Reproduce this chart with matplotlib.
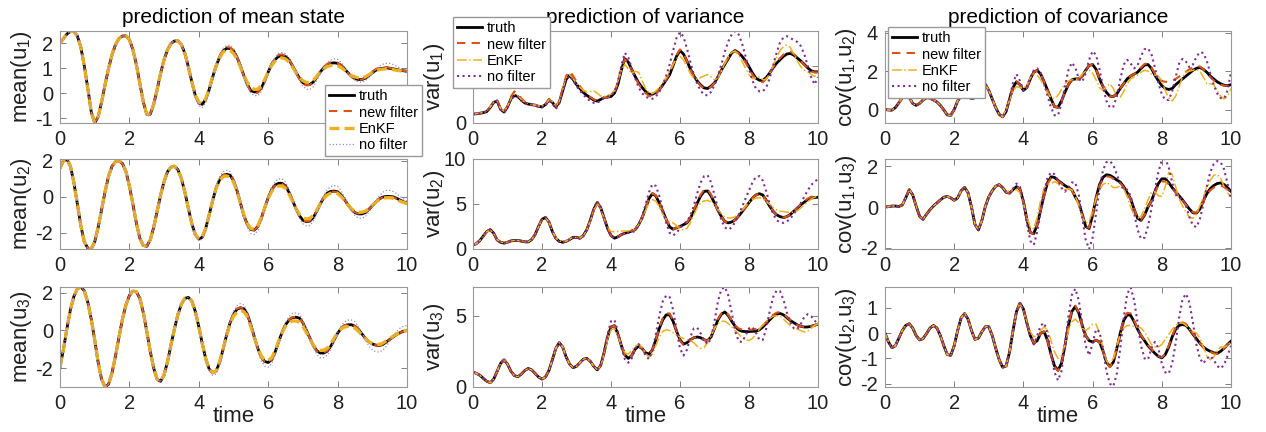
import matplotlib
matplotlib.use("Agg")
import matplotlib.pyplot as plt
import numpy as np

plt.rcParams['font.family'] = ['Liberation Sans', 'DejaVu Sans']
plt.rcParams['mathtext.default'] = 'regular'
plt.rcParams['axes.unicode_minus'] = False

# sampling times (step 0.1)
time = np.linspace(0, 10, 101)

########## mean state ##########
mean_u1_truth = [2.0, 2.2, 2.38, 2.48, 2.48, 2.3, 1.85, 1.1, 0.2, -0.75,
                 -1.2, -0.95, -0.35, 0.35, 1.0, 1.55, 1.95, 2.2, 2.3, 2.3,
                 2.15, 1.75, 1.15, 0.4, -0.35, -0.85, -0.85, -0.45, 0.15, 0.8,
                 1.35, 1.75, 2.0, 2.1, 2.1, 1.95, 1.6, 1.05, 0.45, -0.1,
                 -0.4, -0.45, -0.25, 0.15, 0.65, 1.1, 1.45, 1.7, 1.8, 1.8,
                 1.7, 1.45, 1.1, 0.7, 0.35, 0.1, 0.05, 0.05, 0.2, 0.5,
                 0.85, 1.15, 1.35, 1.48, 1.5, 1.47, 1.35, 1.1, 0.85, 0.6,
                 0.42, 0.35, 0.35, 0.45, 0.65, 0.85, 1.02, 1.13, 1.2, 1.22,
                 1.2, 1.12, 0.98, 0.82, 0.68, 0.58, 0.55, 0.55, 0.6, 0.7,
                 0.82, 0.92, 0.98, 1.0, 1.02, 1.0, 0.98, 0.95, 0.92, 0.9,
                 0.88]
mean_u1_newfilter = mean_u1_truth[:44] + [
    0.68, 1.13, 1.5, 1.75, 1.85, 1.84, 1.72, 1.45, 1.08, 0.68,
    0.32, 0.06, 0.0, 0.02, 0.2, 0.52, 0.88, 1.2, 1.42, 1.54,
    1.56, 1.5, 1.36, 1.1, 0.82, 0.56, 0.38, 0.31, 0.33, 0.45,
    0.66, 0.88, 1.06, 1.18, 1.24, 1.25, 1.22, 1.12, 0.97, 0.8,
    0.66, 0.57, 0.54, 0.55, 0.62, 0.74, 0.87, 0.97, 1.03, 1.05,
    1.05, 1.02, 0.98, 0.95, 0.92, 0.9, 0.88]
mean_u1_enkf = mean_u1_truth[:40] + [
    -0.35, -0.42, -0.22, 0.17, 0.68, 1.1, 1.42, 1.65, 1.75, 1.72,
    1.6, 1.38, 1.05, 0.72, 0.42, 0.22, 0.15, 0.16, 0.3, 0.55,
    0.85, 1.12, 1.3, 1.4, 1.42, 1.38, 1.25, 1.05, 0.82, 0.63,
    0.5, 0.43, 0.43, 0.52, 0.68, 0.85, 0.98, 1.07, 1.11, 1.12,
    1.1, 1.03, 0.93, 0.81, 0.71, 0.65, 0.62, 0.62, 0.66, 0.74,
    0.83, 0.9, 0.95, 0.97, 0.98, 0.97, 0.95, 0.92, 0.9, 0.88, 0.86]
mean_u1_nofilter = mean_u1_truth[:25] + [
    -0.92, -0.9, -0.47, 0.15, 0.8, 1.35, 1.77, 2.03, 2.13, 2.12,
    1.96, 1.6, 1.03, 0.4, -0.18,
    -0.5, -0.58, -0.38, 0.08, 0.62, 1.12, 1.52, 1.8, 1.92, 1.92,
    1.8, 1.52, 1.12, 0.68, 0.28, 0.0, -0.1, -0.1, 0.06, 0.4,
    0.82, 1.2, 1.45, 1.6, 1.63, 1.58, 1.42, 1.15, 0.82, 0.5,
    0.28, 0.16, 0.15, 0.26, 0.5, 0.78, 1.04, 1.22, 1.33, 1.38,
    1.36, 1.25, 1.06, 0.84, 0.65, 0.52, 0.45, 0.44, 0.5, 0.63,
    0.8, 0.96, 1.08, 1.16, 1.2, 1.2, 1.15, 1.08, 1.0, 0.94, 0.9]

mean_u2_truth = [1.6, 2.0, 2.1, 1.7, 0.8, -0.4, -1.6, -2.5, -2.85, -2.9,
                 -2.5, -1.7, -0.7, 0.3, 1.15, 1.7, 1.95, 2.0, 1.85, 1.4,
                 0.6, -0.4, -1.45, -2.3, -2.7, -2.75, -2.4, -1.7, -0.8, 0.1,
                 0.85, 1.4, 1.65, 1.7, 1.5, 1.0, 0.25, -0.65, -1.5, -2.1,
                 -2.35, -2.25, -1.75, -1.0, -0.2, 0.5, 0.95, 1.2, 1.25, 1.2,
                 0.9, 0.35, -0.35, -1.05, -1.55, -1.82, -1.85, -1.65, -1.2, -0.6,
                 -0.05, 0.4, 0.65, 0.75, 0.75, 0.6, 0.25, -0.2, -0.65, -1.05,
                 -1.3, -1.38, -1.35, -1.15, -0.8, -0.4, -0.05, 0.2, 0.3, 0.32,
                 0.28, 0.1, -0.15, -0.45, -0.7, -0.88, -0.95, -0.95, -0.88, -0.7,
                 -0.5, -0.3, -0.12, -0.02, 0.02, 0.02, 0.0, -0.08, -0.18, -0.28,
                 -0.35]
mean_u2_newfilter = mean_u2_truth[:60] + [
    -0.05, 0.38, 0.62, 0.72, 0.72, 0.57, 0.22, -0.22, -0.66, -1.05,
    -1.3, -1.37, -1.33, -1.13, -0.78, -0.38, -0.04, 0.19, 0.28, 0.29,
    0.25, 0.08, -0.16, -0.45, -0.7, -0.87, -0.93, -0.93, -0.86, -0.69,
    -0.5, -0.3, -0.13, -0.04, 0.0, 0.0, -0.03, -0.1, -0.2, -0.29, -0.36]
mean_u2_enkf = mean_u2_truth[:46] + [
    0.9, 1.12, 1.16, 1.1, 0.82, 0.3, -0.35, -1.0, -1.5, -1.77,
    -1.8, -1.6, -1.18, -0.62, -0.1, 0.3, 0.52, 0.6, 0.6, 0.46,
    0.15, -0.25, -0.65, -0.98, -1.18, -1.23, -1.2, -1.03, -0.74, -0.4,
    -0.1, 0.1, 0.2, 0.22, 0.18, 0.02, -0.2, -0.46, -0.67, -0.8,
    -0.86, -0.86, -0.8, -0.65, -0.48, -0.3, -0.16, -0.08, -0.05, -0.05,
    -0.08, -0.15, -0.24, -0.32, -0.38]
mean_u2_nofilter = mean_u2_truth[:40] + [
    -2.45, -2.35, -1.85, -1.05, -0.2, 0.6, 1.1, 1.4, 1.47, 1.4,
    1.08, 0.5, -0.3, -1.1, -1.7, -2.05, -2.1, -1.88, -1.38, -0.72,
    -0.08, 0.5, 0.85, 1.0, 1.0, 0.82, 0.42, -0.12, -0.68, -1.18,
    -1.5, -1.62, -1.6, -1.35, -0.92, -0.4, 0.05, 0.4, 0.57, 0.62,
    0.58, 0.35, 0.0, -0.4, -0.78, -1.05, -1.18, -1.2, -1.1, -0.85,
    -0.55, -0.22, 0.05, 0.25, 0.35, 0.36, 0.3, 0.18, 0.02, -0.12, -0.22]

mean_u3_truth = [-1.95, -1.0, 0.1, 1.1, 1.8, 2.2, 2.3, 2.1, 1.5, 0.6,
                 -0.5, -1.7, -2.6, -3.0, -2.85, -2.25, -1.35, -0.35, 0.6, 1.35,
                 1.85, 2.08, 2.05, 1.7, 0.95, -0.05, -1.1, -2.0, -2.6, -2.7,
                 -2.35, -1.65, -0.75, 0.1, 0.85, 1.4, 1.7, 1.75, 1.55, 1.0,
                 0.2, -0.7, -1.5, -2.05, -2.25, -2.15, -1.7, -1.0, -0.25, 0.4,
                 0.85, 1.12, 1.2, 1.15, 0.85, 0.3, -0.35, -0.95, -1.4, -1.65,
                 -1.7, -1.55, -1.15, -0.6, -0.1, 0.3, 0.55, 0.68, 0.7, 0.65,
                 0.4, 0.0, -0.4, -0.8, -1.08, -1.2, -1.2, -1.1, -0.85, -0.5,
                 -0.15, 0.1, 0.25, 0.3, 0.3, 0.22, 0.05, -0.18, -0.42, -0.6,
                 -0.72, -0.78, -0.8, -0.75, -0.62, -0.48, -0.35, -0.22, -0.12, -0.05,
                 0.0]
mean_u3_newfilter = mean_u3_truth[:50] + [
    0.88, 1.15, 1.22, 1.16, 0.85, 0.28, -0.38, -0.98, -1.42, -1.66,
    -1.7, -1.54, -1.13, -0.58, -0.08, 0.32, 0.57, 0.7, 0.72, 0.66,
    0.4, 0.0, -0.42, -0.82, -1.1, -1.2, -1.18, -1.08, -0.83, -0.48,
    -0.13, 0.12, 0.27, 0.32, 0.32, 0.23, 0.06, -0.17, -0.41, -0.6,
    -0.72, -0.78, -0.8, -0.75, -0.62, -0.48, -0.35, -0.22, -0.12, -0.05, 0.0]
mean_u3_enkf = mean_u3_truth[:46] + [
    -1.65, -0.98, -0.27, 0.33, 0.75, 0.98, 1.05, 1.0, 0.72, 0.2,
    -0.4, -0.95, -1.35, -1.57, -1.6, -1.45, -1.07, -0.58, -0.12, 0.22,
    0.42, 0.5, 0.5, 0.44, 0.22, -0.12, -0.46, -0.78, -0.98, -1.06,
    -1.05, -0.95, -0.72, -0.42, -0.12, 0.08, 0.18, 0.21, 0.2, 0.12,
    -0.04, -0.24, -0.44, -0.6, -0.7, -0.74, -0.74, -0.68, -0.56, -0.43,
    -0.31, -0.2, -0.1, -0.04, 0.0]
mean_u3_nofilter = mean_u3_truth[:43] + [
    -2.15, -2.38, -2.3, -1.85, -1.1, -0.25, 0.5, 1.02, 1.32, 1.42,
    1.35, 1.0, 0.38, -0.38, -1.1, -1.6, -1.9, -1.95, -1.78, -1.32,
    -0.7, -0.08, 0.42, 0.74, 0.9, 0.92, 0.85, 0.56, 0.1, -0.4,
    -0.9, -1.28, -1.45, -1.45, -1.32, -1.02, -0.6, -0.12, 0.22, 0.45,
    0.55, 0.55, 0.45, 0.2, -0.12, -0.5, -0.82, -1.03, -1.13, -1.15,
    -1.05, -0.85, -0.58, -0.3, -0.05, 0.12, 0.22, 0.25]

########## variance ##########
var_u1_truth = [0.78, 0.8, 0.85, 0.9, 1.0, 1.35, 1.8, 1.9, 1.2, 0.95,
                1.4, 2.1, 2.4, 2.3, 2.0, 1.75, 1.65, 1.6, 1.55, 1.45,
                1.4, 1.6, 2.0, 1.8, 1.4, 1.8, 2.8, 3.8, 4.15, 3.8,
                3.35, 3.0, 2.65, 2.4, 2.2, 2.0, 1.9, 2.05, 2.2, 2.25,
                2.3, 2.6, 3.35, 4.6, 5.6, 5.3, 4.65, 4.05, 3.5, 3.1,
                2.75, 2.5, 2.5, 2.65, 2.9, 3.3, 3.75, 4.2, 5.0, 5.8,
                6.3, 6.0, 5.4, 4.7, 4.1, 3.65, 3.3, 3.05, 3.0, 3.2,
                3.5, 4.0, 4.6, 5.1, 5.6, 6.1, 6.3, 6.1, 5.8, 5.4,
                4.9, 4.35, 3.9, 3.72, 3.7, 3.95, 4.35, 4.8, 5.2, 5.5,
                5.8, 6.0, 6.05, 5.9, 5.65, 5.4, 5.1, 4.8, 4.55, 4.45,
                4.45]
var_u1_newfilter = [0.8, 0.82, 0.86, 0.92, 1.05, 1.4, 1.85, 1.95, 1.25, 1.0,
                    1.5, 2.3, 2.75, 2.55, 2.15, 1.85, 1.7, 1.62, 1.55, 1.45,
                    1.4, 1.6, 2.1, 1.9, 1.45, 1.9, 3.0, 4.1, 4.5, 4.1,
                    3.6, 3.2, 2.8, 2.5, 2.25, 2.05, 1.95, 2.05, 2.2, 2.25,
                    2.35, 2.7, 3.5, 4.7, 5.55, 5.25, 4.6, 4.0, 3.4, 2.95,
                    2.6, 2.35, 2.3, 2.5, 2.85, 3.3, 3.8, 4.3, 5.1, 5.9,
                    6.4, 6.05, 5.4, 4.65, 4.05, 3.6, 3.25, 3.0, 2.95, 3.15,
                    3.5, 4.0, 4.6, 5.15, 5.65, 6.1, 6.25, 6.05, 5.7, 5.25,
                    4.75, 4.2, 3.8, 3.6, 3.55, 3.85, 4.3, 4.85, 5.3, 5.65,
                    5.95, 6.15, 6.2, 6.0, 5.7, 5.4, 5.05, 4.75, 4.5, 4.4,
                    4.4]
var_u1_enkf = [0.8, 0.82, 0.86, 0.92, 1.05, 1.4, 1.82, 1.9, 1.25, 1.0,
               1.45, 2.1, 2.5, 2.35, 2.05, 1.8, 1.68, 1.6, 1.55, 1.48,
               1.45, 1.65, 2.0, 1.85, 1.5, 1.85, 2.9, 3.95, 4.2, 3.85,
               3.45, 3.1, 2.85, 2.7, 2.75, 2.8, 2.6, 2.35, 2.3, 2.4,
               2.5, 2.85, 3.6, 4.6, 5.1, 4.7, 4.3, 4.5, 4.4, 3.7,
               3.0, 2.6, 2.55, 2.75, 3.1, 3.5, 3.95, 4.5, 5.1, 5.6,
               5.8, 5.5, 4.9, 4.3, 3.9, 3.8, 3.95, 4.1, 4.2, 4.0,
               3.75, 3.9, 4.5, 5.2, 5.8, 6.15, 6.25, 5.9, 5.35, 4.75,
               4.2, 3.85, 3.95, 4.0, 3.75, 3.8, 4.3, 5.0, 5.7, 6.3,
               6.65, 6.8, 6.55, 6.0, 5.4, 4.9, 4.6, 4.45, 4.25, 4.05,
               4.3]
var_u1_nofilter = [0.78, 0.8, 0.84, 0.9, 1.0, 1.35, 1.82, 1.95, 1.15, 0.9,
                   1.35, 2.05, 2.35, 2.25, 1.95, 1.7, 1.6, 1.55, 1.5, 1.42,
                   1.35, 1.55, 1.95, 1.7, 1.2, 1.7, 2.8, 3.8, 4.1, 3.7,
                   3.2, 2.8, 2.45, 2.15, 1.9, 1.75, 1.75, 1.95, 2.2, 2.3,
                   2.4, 2.7, 3.6, 5.0, 6.1, 5.7, 4.8, 3.9, 3.1, 2.6,
                   2.3, 2.15, 2.1, 2.3, 2.7, 3.3, 4.1, 5.1, 6.3, 7.4,
                   7.9, 7.5, 6.5, 5.3, 4.2, 3.4, 2.8, 2.45, 2.4, 2.7,
                   3.3, 4.1, 5.1, 6.2, 7.1, 7.7, 8.0, 7.7, 6.9, 5.8,
                   4.7, 3.7, 3.0, 2.75, 2.75, 3.1, 3.9, 5.0, 6.1, 7.0,
                   7.45, 7.55, 7.4, 7.2, 7.05, 6.7, 6.0, 5.0, 4.0, 3.35,
                   4.0]

var_u2_truth = [0.45, 0.6, 0.95, 1.45, 1.95, 2.15, 1.75, 1.0, 0.75, 0.65,
                0.75, 0.9, 0.95, 0.95, 0.88, 0.8, 0.78, 1.05, 1.6, 2.5,
                3.3, 3.5, 3.0, 1.95, 1.2, 0.85, 0.75, 0.85, 1.05, 1.3,
                1.3, 1.2, 1.5, 2.15, 3.2, 4.4, 5.15, 4.6, 3.45, 2.3,
                1.5, 1.2, 1.35, 1.6, 1.75, 1.85, 2.0, 2.15, 2.7, 3.45,
                4.5, 5.6, 6.15, 5.9, 5.1, 4.2, 3.3, 2.45, 2.2, 2.35,
                2.5, 2.7, 2.9, 3.4, 4.2, 5.1, 5.9, 6.4, 6.45, 5.9,
                5.1, 4.3, 3.6, 3.05, 2.9, 3.0, 3.25, 3.65, 4.15, 4.65,
                5.15, 5.65, 6.0, 6.15, 6.0, 5.4, 4.75, 4.2, 3.8, 3.6,
                3.5, 3.6, 3.85, 4.2, 4.55, 4.9, 5.2, 5.5, 5.65, 5.72,
                5.75]
var_u2_newfilter = var_u2_truth[:48] + [
    2.7, 3.5, 4.55, 5.65, 6.2, 5.95, 5.15, 4.2, 3.3, 2.45,
    2.2, 2.35, 2.5, 2.72, 2.95, 3.5, 4.35, 5.25, 6.05, 6.6,
    6.65, 6.05, 5.2, 4.35, 3.6, 3.05, 2.9, 3.0, 3.25, 3.65,
    4.15, 4.65, 5.15, 5.65, 6.0, 6.15, 6.0, 5.4, 4.75, 4.2,
    3.8, 3.6, 3.5, 3.6, 3.85, 4.2, 4.6, 4.95, 5.3, 5.6,
    5.8, 5.9, 6.0]
var_u2_enkf = [0.45, 0.6, 0.95, 1.4, 1.9, 2.1, 1.75, 1.05, 0.78, 0.68,
               0.75, 0.88, 0.95, 0.95, 0.9, 0.82, 0.8, 1.05, 1.6, 2.45,
               3.25, 3.45, 3.0, 2.0, 1.25, 0.9, 0.8, 0.9, 1.1, 1.3,
               1.3, 1.25, 1.5, 2.1, 3.1, 4.3, 5.0, 4.5, 3.4, 2.4,
               1.95, 1.9, 1.95, 2.0, 2.0, 2.0, 2.05, 2.2, 2.7, 3.4,
               4.3, 5.1, 5.5, 5.3, 4.7, 3.9, 3.3, 2.95, 2.9, 2.6,
               2.2, 2.1, 2.3, 2.9, 3.8, 4.6, 5.15, 5.35, 5.4, 5.25,
               4.9, 4.4, 3.9, 3.55, 3.45, 3.45, 3.6, 3.9, 4.3, 4.8,
               5.2, 5.5, 5.65, 5.7, 5.6, 5.3, 4.95, 4.6, 4.35, 4.2,
               4.15, 4.1, 4.05, 4.1, 4.25, 4.55, 4.9, 5.25, 5.55, 5.75,
               5.9]
var_u2_nofilter = [0.45, 0.6, 0.95, 1.45, 1.95, 2.15, 1.75, 1.0, 0.72, 0.62,
                   0.72, 0.88, 0.95, 0.95, 0.88, 0.8, 0.78, 1.05, 1.6, 2.5,
                   3.3, 3.55, 3.05, 1.95, 1.15, 0.8, 0.72, 0.82, 1.05, 1.3,
                   1.3, 1.15, 1.45, 2.15, 3.25, 4.55, 5.3, 4.7, 3.45, 2.2,
                   1.45, 1.2, 1.35, 1.6, 1.75, 1.8, 1.85, 2.0, 2.6, 3.6,
                   4.9, 6.3, 7.2, 7.0, 5.9, 4.4, 2.9, 1.8, 1.5, 1.8,
                   2.3, 2.75, 3.1, 3.7, 4.8, 6.2, 7.4, 8.1, 8.2, 7.4,
                   6.0, 4.5, 3.2, 2.4, 2.15, 2.4, 3.0, 3.8, 4.7, 5.6,
                   6.5, 7.4, 8.0, 8.1, 7.6, 6.4, 5.0, 3.9, 3.2, 2.95,
                   2.9, 3.05, 3.4, 3.9, 4.5, 5.1, 5.8, 6.5, 7.1, 7.5,
                   7.75]

var_u3_truth = [1.05, 0.95, 0.82, 0.6, 0.4, 0.3, 0.55, 1.1, 1.65, 1.9,
                1.6, 1.1, 0.8, 0.72, 0.9, 1.15, 1.3, 1.2, 0.95, 0.7,
                0.55, 0.7, 1.15, 1.9, 2.7, 3.1, 2.8, 2.1, 1.6, 1.35,
                1.45, 1.7, 1.95, 2.0, 1.8, 1.45, 1.2, 1.5, 2.4, 3.5,
                4.2, 4.3, 3.7, 2.9, 2.25, 2.0, 2.2, 2.65, 2.85, 2.7,
                2.4, 2.3, 2.6, 3.3, 4.1, 4.7, 5.05, 5.05, 4.6, 3.9,
                3.3, 3.0, 3.1, 3.3, 3.45, 3.5, 3.45, 3.3, 3.25, 3.5,
                4.1, 4.7, 5.1, 5.25, 5.0, 4.6, 4.25, 4.0, 3.9, 3.88,
                3.88, 3.9, 3.9, 4.0, 4.2, 4.45, 4.7, 4.95, 5.1, 5.15,
                5.05, 4.85, 4.65, 4.5, 4.35, 4.25, 4.2, 4.2, 4.25, 4.32,
                4.4]
var_u3_newfilter = var_u3_truth[:54] + [
    4.15, 4.8, 5.15, 5.15, 4.65, 3.9, 3.25, 2.95, 3.05, 3.28,
    3.45, 3.5, 3.45, 3.3, 3.25, 3.55, 4.15, 4.75, 5.15, 5.3,
    5.05, 4.65, 4.3, 4.1, 4.02, 4.0, 4.0, 4.02, 4.05, 4.12,
    4.3, 4.55, 4.8, 5.05, 5.2, 5.25, 5.12, 4.9, 4.68, 4.5,
    4.35, 4.25, 4.2, 4.2, 4.25, 4.32, 4.4]
var_u3_enkf = var_u3_truth[:37] + [
    1.45, 2.3, 3.3, 4.0, 4.1, 3.6, 2.9, 2.4, 2.3, 2.55,
    2.85, 3.0, 2.8, 2.35, 2.1, 2.3, 2.9, 3.5, 3.9, 4.0,
    3.95, 3.8, 3.65, 3.5, 3.4, 3.3, 3.25, 3.1, 2.85, 2.7,
    2.75, 3.1, 3.6, 4.1, 4.45, 4.6, 4.6, 4.45, 4.2, 3.95,
    3.7, 3.45, 3.3, 3.25, 3.4, 3.7, 4.05, 4.35, 4.6, 4.8,
    4.95, 5.0, 4.95, 4.75, 4.5, 4.3, 4.15, 4.05, 3.95, 3.85,
    3.9, 4.1, 4.3, 4.45]
var_u3_nofilter = var_u3_truth[:37] + [
    1.5, 2.5, 3.7, 4.6, 4.7, 3.9, 2.8, 1.95, 1.7, 2.0,
    2.7, 3.0, 2.75, 2.2, 1.95, 2.5, 3.7, 5.0, 6.0, 6.4,
    6.3, 5.4, 4.0, 2.7, 2.2, 2.6, 3.5, 4.1, 4.15, 3.75,
    3.25, 3.0, 3.4, 4.6, 6.0, 6.85, 7.0, 6.4, 5.2, 3.9,
    3.2, 3.15, 3.6, 4.1, 4.2, 3.8, 3.3, 3.3, 4.1, 5.3,
    6.3, 6.75, 6.7, 6.1, 5.2, 4.5, 4.1, 4.05, 4.4, 4.9,
    5.1, 4.95, 4.65, 4.4]

########## covariance ##########
cov_u1u2_truth = [0.0, -0.02, -0.03, 0.1, 0.35, 0.62, 0.78, 0.65, 0.32, 0.22,
                  0.32, 0.5, 0.62, 0.6, 0.5, 0.4, 0.22, -0.02, -0.28, -0.3,
                  0.0, 0.45, 0.72, 0.8, 0.68, 0.57, 0.62, 0.9, 1.25, 1.32,
                  1.0, 0.55, 0.1, -0.25, -0.38, -0.1, 0.55, 1.15, 1.45, 1.3,
                  1.0, 1.15, 1.6, 1.95, 2.05, 1.85, 1.45, 1.0, 0.55, 0.15,
                  0.12, 0.45, 0.9, 1.3, 1.55, 1.6, 1.6, 1.75, 2.05, 2.3,
                  2.35, 2.1, 1.6, 1.2, 0.9, 0.7, 0.68, 0.82, 1.1, 1.35,
                  1.6, 1.75, 1.85, 1.95, 2.15, 2.32, 2.35, 2.15, 1.8, 1.5,
                  1.25, 1.1, 1.05, 1.1, 1.3, 1.45, 1.6, 1.75, 1.9, 2.05,
                  2.15, 2.2, 2.1, 1.95, 1.75, 1.6, 1.45, 1.35, 1.27, 1.25,
                  1.3]
cov_u1u2_newfilter = cov_u1u2_truth[:74] + [
    2.2, 2.38, 2.4, 2.2, 1.88, 1.65, 1.5, 1.45, 1.45, 1.5,
    1.6, 1.72, 1.85, 1.98, 2.1, 2.2, 2.25, 2.25, 2.1, 1.9,
    1.7, 1.52, 1.4, 1.3, 1.25, 1.25, 1.28]
cov_u1u2_enkf = cov_u1u2_truth[:35] + [
    0.0, 0.5, 0.95, 1.2, 1.15, 1.1, 1.3, 1.65, 1.85, 1.8,
    1.55, 1.2, 0.85, 0.62, 0.57, 0.75, 1.05, 1.35, 1.5, 1.55,
    1.55, 1.65, 1.85, 2.0, 2.05, 1.9, 1.55, 1.15, 1.0, 1.2,
    1.35, 1.1, 0.7, 0.65, 0.95, 1.35, 1.6, 1.7, 1.8, 1.95,
    2.05, 2.0, 1.85, 1.8, 1.75, 1.5, 1.0, 0.6, 0.45, 0.7,
    1.2, 1.7, 1.95, 2.0, 2.05, 2.1, 2.0, 1.7, 1.35, 1.35,
    1.3, 1.0, 0.7, 0.55, 0.7, 1.1]
cov_u1u2_nofilter = cov_u1u2_truth[:35] + [
    -0.12, 0.6, 1.4, 1.85, 1.5, 1.0, 1.2, 1.7, 2.05, 2.15,
    1.9, 1.35, 0.7, 0.1, -0.3, -0.3, 0.3, 1.2, 2.05, 2.45,
    2.2, 1.6, 1.45, 1.9, 2.6, 3.05, 2.85, 2.1, 1.2, 0.45,
    0.1, 0.15, 0.7, 1.6, 2.35, 2.6, 2.4, 2.15, 2.3, 2.8,
    3.15, 3.2, 2.9, 2.2, 1.4, 0.8, 0.5, 0.5, 0.95, 1.7,
    2.4, 2.65, 2.5, 2.2, 2.35, 2.75, 3.0, 2.95, 2.55, 1.9,
    1.3, 0.85, 0.6, 0.57, 1.0, 1.95]

cov_u1u3_truth = [0.0, 0.02, 0.05, 0.05, 0.03, 0.1, 0.45, 0.85, 0.6, 0.05,
                  -0.45, -0.6, -0.35, -0.13, 0.05, 0.2, 0.35, 0.48, 0.52, 0.45,
                  0.33, 0.45, 0.8, 0.96, 0.7, 0.0, -0.85, -1.12, -0.65, 0.03,
                  0.5, 0.8, 1.02, 1.1, 0.95, 0.72, 0.68, 0.85, 1.0, 0.88,
                  0.28, -0.6, -1.25, -1.3, -0.85, -0.13, 0.6, 1.2, 1.48, 1.45,
                  1.3, 1.18, 1.05, 0.95, 0.85, 0.5, 0.2, -0.35, -0.95, -1.05,
                  -0.4, 0.45, 1.1, 1.45, 1.58, 1.55, 1.45, 1.32, 1.22, 1.0,
                  0.7, 0.4, -0.1, -0.55, -0.65, -0.4, 0.0, 0.3, 0.75, 1.15,
                  1.38, 1.38, 1.2, 0.95, 0.75, 0.55, 0.35, 0.12, -0.1, -0.28,
                  -0.3, -0.1, 0.3, 0.65, 0.9, 1.05, 1.15, 1.18, 1.1, 0.95,
                  0.77]
cov_u1u3_newfilter = cov_u1u3_truth[:46] + [
    0.58, 1.15, 1.42, 1.42, 1.28, 1.15, 1.02, 0.92, 0.82, 0.48,
    0.18, -0.37, -0.95, -1.02, -0.38, 0.42, 1.05, 1.38, 1.5, 1.48,
    1.38, 1.26, 1.17, 0.96, 0.68, 0.38, -0.1, -0.53, -0.62, -0.38,
    0.0, 0.3, 0.72, 1.08, 1.25, 1.25, 1.12, 0.92, 0.73, 0.53,
    0.33, 0.1, -0.1, -0.26, -0.28, -0.08, 0.28, 0.6, 0.82, 0.95,
    1.02, 1.05, 0.98, 0.85, 0.7]
cov_u1u3_enkf = cov_u1u3_truth[:35] + [
    0.75, 0.8, 0.85, 0.85, 0.7, 0.2, -0.5, -1.0, -1.05, -0.5,
    0.35, 0.95, 1.1, 1.15, 1.25, 1.15, 0.9, 0.85, 0.9, 0.85,
    0.55, 0.05, -0.5, -0.78, -0.7, -0.2, 0.4, 0.85, 1.1, 1.2,
    1.1, 0.95, 0.95, 1.05, 0.9, 0.5, 0.0, -0.4, -0.55, -0.45,
    -0.1, 0.35, 0.7, 0.75, 0.55, 0.52, 1.0, 1.7, 1.6, 1.0,
    0.4, 0.05, -0.25, -0.5, -0.55, -0.35, 0.05, 0.5, 0.95, 1.3,
    1.55, 1.6, 1.4, 1.0, 0.7, 0.5]
cov_u1u3_nofilter = cov_u1u3_truth[:37] + [
    0.9, 1.15, 1.0, 0.3, -0.8, -1.65, -1.85, -1.2, -0.2, 0.75,
    1.45, 1.7, 1.6, 1.3, 0.95, 0.75, 0.95, 1.2, 1.2, 0.6,
    -0.5, -1.6, -2.05, -1.5, -0.3, 0.9, 1.8, 2.2, 2.25, 2.05,
    1.6, 1.1, 0.85, 0.85, 0.55, -0.3, -1.1, -1.55, -1.5, -0.95,
    -0.1, 0.85, 1.7, 2.3, 2.35, 1.95, 1.2, 0.6, 0.45, 0.4,
    0.05, -0.5, -0.9, -0.98, -0.6, 0.15, 1.0, 1.7, 2.1, 2.25,
    2.2, 1.85, 1.15, 0.35]

cov_u2u3_truth = [0.0, -0.35, -0.58, -0.5, -0.2, 0.1, 0.3, 0.37, 0.2, -0.1,
                  -0.27, -0.22, -0.02, 0.2, 0.3, 0.2, -0.1, -0.5, -0.85, -0.88,
                  -0.5, 0.1, 0.6, 0.77, 0.55, 0.1, -0.25, -0.2, 0.05, 0.25,
                  0.25, -0.1, -0.6, -1.05, -1.35, -1.3, -0.75, 0.1, 0.85, 1.18,
                  0.95, 0.4, -0.1, -0.4, -0.3, 0.0, 0.05, -0.3, -0.85, -1.3,
                  -1.47, -1.2, -0.5, 0.3, 0.85, 1.05, 0.8, 0.3, -0.1, -0.3,
                  -0.35, -0.28, -0.35, -0.7, -1.15, -1.32, -1.15, -0.6, 0.0, 0.5,
                  0.72, 0.7, 0.45, 0.15, -0.1, -0.3, -0.5, -0.65, -0.8, -0.92,
                  -0.98, -0.85, -0.55, -0.15, 0.15, 0.3, 0.34, 0.3, 0.15, -0.05,
                  -0.22, -0.4, -0.55, -0.65, -0.72, -0.78, -0.8, -0.72, -0.6, -0.45,
                  -0.32]
cov_u2u3_newfilter = cov_u2u3_truth[:48] + [
    -0.88, -1.33, -1.5, -1.22, -0.5, 0.32, 0.88, 1.08, 0.82, 0.3,
    -0.1, -0.3, -0.35, -0.28, -0.36, -0.72, -1.18, -1.35, -1.17, -0.6,
    0.02, 0.55, 0.8, 0.78, 0.5, 0.18, -0.08, -0.28, -0.48, -0.63,
    -0.78, -0.9, -0.96, -0.82, -0.5, -0.1, 0.22, 0.38, 0.42, 0.36,
    0.18, -0.03, -0.22, -0.4, -0.56, -0.67, -0.74, -0.8, -0.82, -0.74,
    -0.6, -0.45, -0.32]
cov_u2u3_enkf = cov_u2u3_truth[:40] + [
    0.85, 0.45, 0.05, -0.15, -0.1, 0.1, 0.25, 0.1, -0.3, -0.75,
    -1.0, -0.9, -0.45, 0.1, 0.45, 0.55, 0.4, 0.2, 0.1, 0.2,
    0.35, 0.35, 0.0, -0.6, -1.1, -1.25, -1.0, -0.5, -0.05, 0.2,
    0.3, 0.3, 0.25, 0.25, 0.2, 0.05, -0.2, -0.45, -0.55, -0.55,
    -0.45, -0.25, -0.05, 0.15, 0.3, 0.4, 0.4, 0.3, 0.15, 0.05,
    0.0, -0.2, -0.55, -0.9, -1.05, -0.95, -0.7, -0.55, -0.55, -0.5,
    -0.3]
cov_u2u3_nofilter = cov_u2u3_truth[:43] + [
    -0.45, -0.1, 0.3, 0.4, 0.0, -0.8, -1.55, -1.87, -1.5, -0.5,
    0.65, 1.5, 1.75, 1.3, 0.4, -0.5, -0.88, -0.4, 0.15, 0.05,
    -0.6, -1.5, -2.0, -2.1, -1.6, -0.6, 0.6, 1.55, 1.8, 1.3,
    0.4, -0.5, -1.0, -1.05, -0.6, -0.35, -0.6, -1.2, -1.55, -1.6,
    -1.2, -0.4, 0.6, 1.35, 1.55, 1.2, 0.4, -0.45, -1.0, -1.2,
    -1.0, -0.9, -1.05, -1.3, -1.4, -1.25, -0.9, -0.5]

labels = ['truth', 'new filter', 'EnKF', 'no filter']

W, H = 1266, 432
fig = plt.figure(figsize=(W / 100, H / 100), dpi=100)

col_left = [60, 473, 885]
col_width = [347, 345, 346]
row_top = [31, 159, 287]
row_height = [92, 90, 100]

c_truth = 'black'
c_new = '#D95319'
c_enkf = '#EDB120'
c_nof = '#7E2F8E'


def panel(r, c, data, ylim, yticks, ylabel, mean_style=False):
    rect = [col_left[c] / W, 1 - (row_top[r] + row_height[r]) / H,
            col_width[c] / W, row_height[r] / H]
    ax = fig.add_axes(rect)
    truth, newf, enkf, nof = data
    ax.plot(time, truth, color=c_truth, lw=2.0, label=labels[0])
    ax.plot(time, newf, color=c_new, lw=1.5, ls=(0, (4, 3)), label=labels[1])
    if mean_style:
        ax.plot(time, enkf, color=c_enkf, lw=2.4, ls=(0, (3, 1.5)), label=labels[2])
        ax.plot(time, nof, color='#9A8CC4', lw=0.9, ls=':', label=labels[3])
    else:
        ax.plot(time, enkf, color=c_enkf, lw=1.1, ls='-.', label=labels[2])
        ax.plot(time, nof, color=c_nof, lw=1.5, ls=':', label=labels[3])
    ax.set_xlim(0, 10)
    ax.set_ylim(*ylim)
    ax.set_xticks([0, 2, 4, 6, 8, 10])
    ax.set_yticks(yticks)
    ax.tick_params(direction='in', top=True, right=True, length=4, width=0.7,
                   color='#808080', labelsize=14.5, labelcolor='#202020', pad=5)
    for s in ax.spines.values():
        s.set_color('#999999')
        s.set_linewidth(0.8)
    ax.set_ylabel(ylabel, fontsize=16, color='#202020')
    ax.yaxis.set_label_coords(-26 / col_width[c], 0.5)
    if r == 2:
        ax.set_xlabel('time', fontsize=16, color='#202020')
        ax.xaxis.set_label_coords(0.5, -0.19)
    return ax


ax11 = panel(0, 0, (mean_u1_truth, mean_u1_newfilter, mean_u1_enkf, mean_u1_nofilter),
             (-1.2, 2.5), [-1, 0, 1, 2], 'mean(u$_1$)', mean_style=True)
panel(1, 0, (mean_u2_truth, mean_u2_newfilter, mean_u2_enkf, mean_u2_nofilter),
      (-2.9, 2.1), [-2, 0, 2], 'mean(u$_2$)', mean_style=True)
panel(2, 0, (mean_u3_truth, mean_u3_newfilter, mean_u3_enkf, mean_u3_nofilter),
      (-3.0, 2.3), [-2, 0, 2], 'mean(u$_3$)', mean_style=True)

ax12 = panel(0, 1, (var_u1_truth, var_u1_newfilter, var_u1_enkf, var_u1_nofilter),
             (0, 8), [0, 5], 'var(u$_1$)')
panel(1, 1, (var_u2_truth, var_u2_newfilter, var_u2_enkf, var_u2_nofilter),
      (0, 10), [0, 5, 10], 'var(u$_2$)')
panel(2, 1, (var_u3_truth, var_u3_newfilter, var_u3_enkf, var_u3_nofilter),
      (0, 7), [0, 5], 'var(u$_3$)')

ax13 = panel(0, 2, (cov_u1u2_truth, cov_u1u2_newfilter, cov_u1u2_enkf, cov_u1u2_nofilter),
             (-0.7, 4.1), [0, 2, 4], 'cov(u$_1$,u$_2$)')
panel(1, 2, (cov_u1u3_truth, cov_u1u3_newfilter, cov_u1u3_enkf, cov_u1u3_nofilter),
      (-2.05, 2.35), [-2, 0, 2], 'cov(u$_1$,u$_3$)')
panel(2, 2, (cov_u2u3_truth, cov_u2u3_newfilter, cov_u2u3_enkf, cov_u2u3_nofilter),
      (-2.13, 1.82), [-2, -1, 0, 1], 'cov(u$_2$,u$_3$)')

ax11.set_title('prediction of mean state', fontsize=15, pad=6)
ax12.set_title('prediction of variance', fontsize=15, pad=6)
ax13.set_title('prediction of covariance', fontsize=15, pad=6)

legend_kw = dict(fontsize=10.5, loc='upper left', bbox_transform=fig.transFigure,
                 borderaxespad=0, fancybox=False, framealpha=1, edgecolor='#999999',
                 handlelength=1.7, handletextpad=0.3, labelspacing=0.15,
                 borderpad=0.3)
leg = ax11.legend(bbox_to_anchor=(325 / W, 1 - 85 / H), **legend_kw)
leg.set_zorder(10)
leg = ax12.legend(bbox_to_anchor=(453 / W, 1 - 17 / H), **legend_kw)
leg.set_zorder(10)
leg = ax13.legend(bbox_to_anchor=(888 / W, 1 - 27 / H), **legend_kw)
leg.set_zorder(10)

plt.savefig('out.png', dpi=100)
